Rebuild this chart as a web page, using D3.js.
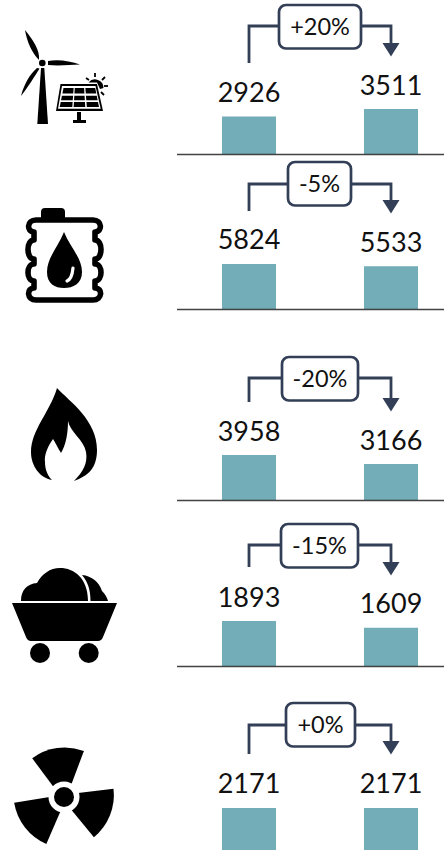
<!DOCTYPE html>
<html><head><meta charset="utf-8">
<style>html,body{margin:0;padding:0;background:#fff}svg{display:block}text{font-family:Lato,"Open Sans",sans-serif}</style>
<script src="https://cdn.jsdelivr.net/npm/d3@7"></script></head><body>
<script>
const categories=["Renewables","Oil","Gas","Coal","Nuclear"];
const columns=["before","after"];
const before=[2926,5824,3958,1893,2171];
const after=[3511,5533,3166,1609,2171];
const changes=["+20%","-5%","-20%","-15%","+0%"];

const W=444,H=850;
const layout={
  base:[154,309,500,666,853],
  labelBefore:[102,249,441,607,793],
  labelAfter:[95,252,450,613,793],
  boxX:[279,288,282,281,286],
  boxW:[82,63,76,77,69],
  boxY:[5,162,357,524,703],
  lineY:[26,184,378,545,725],
  stemEnd:[63,211,402,567,754],
  headTop:[43,200,398,562,741]
};
const teal="#72adb8",navy="#333f56",barH=45,bw=54;
const svg=d3.select("body").append("svg").attr("width",W).attr("height",H);
const x=d3.scalePoint().domain(columns).range([249,391]);

categories.forEach((c,i)=>{
  const g=svg.append("g").attr("class","panel").attr("data-cat",c);
  const vals=[before[i],after[i]];
  const base=layout.base[i];
  const y=d3.scaleLinear().domain([0,d3.max(vals)]).range([base,base-barH]);
  g.selectAll("rect.bar").data(vals).join("rect").attr("class","bar")
    .attr("x",(d,k)=>x(columns[k])-bw/2).attr("width",bw)
    .attr("y",d=>y(d)).attr("height",d=>base-y(d)).attr("fill",teal);
  if(i<4) g.append("line").attr("x1",177).attr("x2",444).attr("y1",base+.5).attr("y2",base+.5)
    .attr("stroke","#222").attr("stroke-opacity",.85).attr("stroke-width",1.4);
  g.selectAll("text.val").data(vals).join("text").attr("class","val")
    .attr("x",(d,k)=>x(columns[k])).attr("y",(d,k)=>k?layout.labelAfter[i]:layout.labelBefore[i])
    .attr("text-anchor","middle").attr("font-size",27).attr("fill","#111")
    .text(d=>d3.format("d")(d));
  const ly=layout.lineY[i],xa=x("before"),xb=x("after");
  g.append("path").attr("fill","none").attr("stroke",navy).attr("stroke-width",2.8)
    .attr("d",d3.line()([[xa,layout.stemEnd[i]],[xa,ly],[xb,ly],[xb,layout.headTop[i]+1]]));
  const ht=layout.headTop[i];
  g.append("path").attr("fill",navy).attr("d",d3.line()([[xb-8.5,ht],[xb+8.5,ht],[xb,ht+13.5]])+"Z");
  const bx=layout.boxX[i],by=layout.boxY[i],bwid=layout.boxW[i];
  g.append("rect").attr("x",bx).attr("y",by).attr("width",bwid).attr("height",43.5).attr("rx",7)
    .attr("fill","#fff").attr("stroke",navy).attr("stroke-width",2.7);
  g.append("text").attr("x",bx+bwid/2).attr("y",by+29.5).attr("text-anchor","middle")
    .attr("font-size",23.5).attr("fill","#111").text(changes[i]);
});

// icons
const ic=svg.append("g").attr("fill","#000");
const P=d=>ic.append("path").attr("d",d);
// wind turbine
P("M37.3 124 L48 124 L44.3 68 L41 68 Z");
ic.append("circle").attr("cx",42.3).attr("cy",63).attr("r",3.3);
P("M25 30 C27 42 32 53 39 60 C40 50 33 40 25 30 Z");
P("M48 61 C58 59 70 61 80 64.5 C70 65 58 66 48 65 Z");
P("M39.5 68.5 C35 76 28 87 21 96 C24 84 30 74 37 68 Z");
// solar panel
P("M60.5 84 L97 84 L103 111 L56 111 Z M62 86 L58 108.7 L100.7 108.7 L95.5 86 Z");
const rows=[[88,93.5],[95.7,100.3],[102,107]],cols=[[0,.32],[.355,.65],[.69,1]];
const edge=(u,v)=>{const l=63.5-(v-88)*.2,r=95.2+(v-88)*.2;return [l+(r-l)*u,v];};
rows.forEach(r=>cols.forEach(k=>{
  ic.append("path").attr("d",d3.line()([edge(k[0],r[0]),edge(k[1],r[0]),edge(k[1],r[1]),edge(k[0],r[1])])+"Z");
}));
P("M77 112 h4 v8 h5 v3 h-13 v-3 h4 Z");
P("M88.5 82.5 A8.5 8.5 0 0 1 103.5 88 L100 89 L97 82.5 Z");
[[95,73,95,77],[86,78,89,80],[105,77,102,80],[108,86,104,86],[104,95,101,92]].forEach(a=>{
  ic.append("line").attr("x1",a[0]).attr("y1",a[1]).attr("x2",a[2]).attr("y2",a[3]).attr("stroke","#000").attr("stroke-width",1.8);
});
// barrel
P("M41 218 V212 Q41 208 45 208 H61 Q65 208 65 212 V218 Z");
ic.append("path").attr("fill","none").attr("stroke","#000").attr("stroke-width",5.6).attr("stroke-linejoin","round")
  .attr("d","M36 220 H93 C102.5 220 102.5 232 95 232 V240 C103 240 103 259 95 259 V264 C103 264 103 281 95 281 V288 C103 288 102.5 300 93 300 H36 C26.5 300 26.5 288 34 288 V281 C26 281 26 264 34 264 V259 C26 259 26 240 34 240 V232 C26.5 232 26.5 220 36 220 Z");
P("M64 232 C70 247 82 258 82 272 C82 284 73 288 64 288 C55 288 47 284 47 272 C47 258 58 247 64 232 Z");
ic.append("path").attr("fill","none").attr("stroke","#fff").attr("stroke-width",3.2).attr("stroke-linecap","round")
  .attr("d","M67 281 Q72 279 73 268");
// flame
P("M57 388 C70 402 97 420 97 450 C97 468 88 476 74 481 C83 472 88 463 86 452 C84 440 70 432 68 421 C68 433 66 445 61 453 C58 448 55 442 53 439 C48 446 44 455 45 462 C45 470 48 476 52 480 C40 478 31 466 31 452 C31 430 50 412 57 388 Z");
// coal cart
P("M21 601 C21 590 27 584 37 583 C42 574 50 568 60 568 C74 568 88 578 88 601 Z");
P("M82 575 C92 576 99 582 102 591 C105 594 107 597 108 601 H90.5 C90.5 590 88 582 82 575 Z");
P("M12 603 H117 L103 637 Q101.5 641 98 641 H31 Q27.5 641 26 637 Z");
ic.append("circle").attr("cx",40).attr("cy",653).attr("r",10);
ic.append("circle").attr("cx",88.7).attr("cy",653).attr("r",10);
// nuclear: blades converge on a point just behind the hub
const arc=d3.arc().innerRadius(0).outerRadius(54.5);
[-8,112,232].forEach(a=>{
  const t=(a*Math.PI)/180;
  const ox=64-5*Math.sin(t),oy=797+5*Math.cos(t);
  ic.append("path").attr("transform",`translate(${ox},${oy})`).attr("d",arc({startAngle:t-0.5,endAngle:t+0.5}));
});
ic.append("circle").attr("cx",64).attr("cy",797).attr("r",15.5).attr("fill","#fff");
ic.append("circle").attr("cx",64).attr("cy",797).attr("r",10);
</script></body></html>
